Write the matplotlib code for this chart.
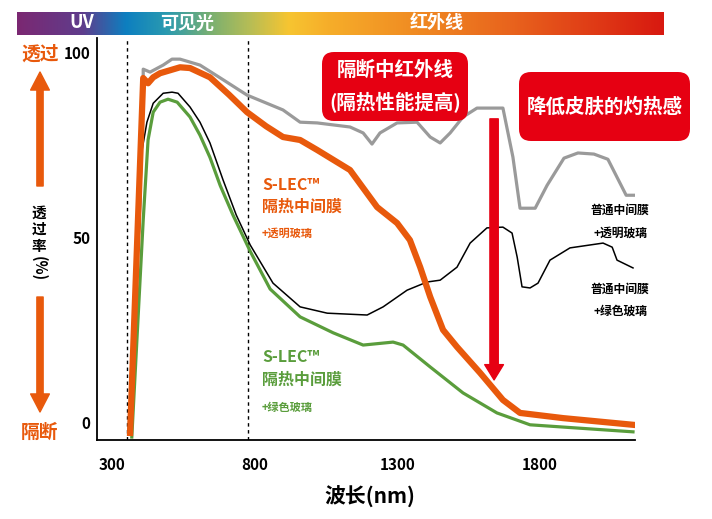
import numpy as np
import matplotlib.pyplot as plt
from matplotlib.colors import LinearSegmentedColormap
from matplotlib.patches import FancyBboxPatch

plt.rcParams['font.family'] = ['Noto Sans CJK SC', 'DejaVu Sans']
plt.rcParams['font.weight'] = 'bold'

# wavelength (nm) and transmittance (%)
gray_x = [362, 409, 409, 433, 479, 510, 538, 608, 690, 773, 899, 959, 1019, 1134, 1180, 1211,
          1239, 1299, 1369, 1415, 1450, 1485, 1530, 1579, 1670, 1705, 1730, 1783, 1825,
          1884, 1933, 1989, 2038, 2102, 2130]
gray_y = [-3, 93.2, 95.4, 94.6, 96.5, 98.1, 98.1, 96.5, 92.5, 88.4, 84.4, 81.1, 80.9, 79.8, 78.2, 75.2,
          78.2, 80.9, 81.1, 77.1, 75.5, 78.2, 82.5, 84.9, 84.9, 71.7, 57.9, 57.9, 64.1,
          71.4, 72.8, 72.5, 71.1, 61.4, 61.4]

orange_x = [363, 409, 426, 444, 468, 538, 573, 643, 710, 773, 840, 899, 959, 1019, 1134, 1229, 1299,
            1344, 1380, 1415, 1460, 1509, 1590, 1670, 1730, 1881, 2126]
orange_y = [-2.7, 93.0, 91.6, 93.2, 94.3, 95.9, 95.7, 93.2, 88.5, 83.8, 80.0, 77.1, 76.3, 73.6, 68.2, 58.2, 53.9,
            49.3, 42.0, 34.0, 25.1, 20.5, 13.5, 6.2, 2.7, 1.3, -0.5]

black_x = [356, 398, 405, 422, 444, 479, 510, 531, 573, 608, 643, 689, 735, 784, 864, 959, 1054, 1194,
           1250, 1334, 1404, 1450, 1509, 1555, 1614, 1670, 1702, 1720, 1737, 1765, 1793,
           1835, 1905, 2021, 2053, 2070, 2126]
black_y = [-2.4, 54.7, 73.6, 81.1, 86.2, 88.9, 89.2, 88.9, 85.2, 81.1, 75.5, 65.5, 56.1, 48.0, 37.7, 31.3, 29.6, 29.1,
           31.3, 35.8, 38.0, 38.5, 42.0, 48.5, 52.6, 52.8, 51.2, 44.7, 36.7, 36.4, 37.7,
           43.9, 47.2, 48.5, 47.4, 43.9, 41.8]

green_x = [369, 409, 426, 444, 468, 496, 528, 573, 608, 643, 679, 724, 784, 854, 959, 1075, 1180,
           1285, 1320, 1415, 1530, 1649, 1765, 2126]
green_y = [-3.8, 54.7, 76.3, 83.8, 86.5, 87.3, 86.5, 82.5, 77.6, 71.6, 64.0, 56.0, 46.3, 36.1, 28.6, 24.3, 21.0,
           21.8, 21.0, 15.1, 8.1, 2.7, -0.5, -2.4]

region_bounds = [352, 777]
xticks = [300, 800, 1300, 1800]
yticks = [0, 50, 100]
band_labels = ['UV', '可见光', '红外线']

ORANGE = '#e8590c'
GREEN = '#5a9d3c'
GRAY = '#9a9a9a'
RED = '#e60012'

W, H = 712, 519
fig = plt.figure(figsize=(W / 100, H / 100), dpi=100)


def fp(x, y):
    return (x / W, 1 - y / H)


ax = fig.add_axes([97 / W, 1 - 440 / H, (635 - 97) / W, (440 - 38) / H])
ax.plot(gray_x, gray_y, color=GRAY, lw=2.3, solid_joinstyle='round')
ax.plot(black_x, black_y, color='black', lw=1.1, solid_joinstyle='round')
ax.plot(green_x, green_y, color=GREEN, lw=2.3, solid_joinstyle='round')
ax.plot(orange_x, orange_y, color=ORANGE, lw=4.5, solid_joinstyle='round')
for b in region_bounds:
    ax.axvline(b, color='black', lw=1.0, ls=(0, (2.5, 2.5)), zorder=0)

ax.set_xlim(247, 2133)
ax.set_ylim(-4.6, 103.8)
ax.set_xticks(xticks)
ax.set_yticks(yticks)
ax.tick_params(length=0, labelsize=11, pad=12)
ax.tick_params(axis='y', pad=5)
for s in ['top', 'right']:
    ax.spines[s].set_visible(False)
for s in ['left', 'bottom']:
    ax.spines[s].set_linewidth(1.3)

# red arrow across the curves
ax.annotate('', xy=(1639, 11.6), xytext=(1639, 82),
            arrowprops=dict(arrowstyle='simple,tail_width=0.6,head_width=1.35,head_length=1.1',
                            color=RED, mutation_scale=10, shrinkA=0, shrinkB=0), zorder=5)

# spectrum bar
cmap = LinearSegmentedColormap.from_list('spec', [
    (0.0, '#7b2872'), (0.10, '#5f3d8c'), (0.167, '#0d7fc0'), (0.23, '#2a9ab0'),
    (0.30, '#7bb070'), (0.36, '#b7bd55'), (0.42, '#f7c531'), (0.48, '#f6ae2a'),
    (0.62, '#f08a22'), (0.77, '#e8621d'), (1.0, '#d81910')])
bar = fig.add_axes([17 / W, 1 - 35 / H, 647 / W, 23 / H])
bar.imshow(np.linspace(0, 1, 256)[None, :], aspect='auto', cmap=cmap)
bar.axis('off')
for lab, x in zip(band_labels, [82, 187, 437]):
    fig.text(*fp(x, 23), lab, color='white', fontsize=13, weight='bold', ha='center', va='center')

# left side labels and arrows
fig.text(*fp(40, 54), '透过', color=ORANGE, fontsize=13.5, weight='bold', ha='center', va='center')
fig.text(*fp(40, 432), '隔断', color=ORANGE, fontsize=13.5, weight='bold', ha='center', va='center')
arrow_style = 'simple,tail_width=0.45,head_width=1.35,head_length=1.3'
fig.add_artist(plt.Annotation('', xy=fp(40, 72), xytext=fp(40, 186), xycoords='figure fraction',
                              arrowprops=dict(arrowstyle=arrow_style, color=ORANGE, mutation_scale=10,
                                              shrinkA=0, shrinkB=0)))
fig.add_artist(plt.Annotation('', xy=fp(40, 412), xytext=fp(40, 297), xycoords='figure fraction',
                              arrowprops=dict(arrowstyle=arrow_style, color=ORANGE, mutation_scale=10,
                                              shrinkA=0, shrinkB=0)))
fig.text(*fp(39, 229), '透\n过\n率', fontsize=10.5, weight='bold', ha='center', va='center',
         linespacing=1.05)
fig.text(*fp(39, 269), '(%)', fontsize=10.5, weight='bold', ha='center', va='center', rotation=270)

fig.text(*fp(370, 497), '波长(nm)', fontsize=15, weight='bold', ha='center', va='center')

# curve labels
fig.text(*fp(262, 185), 'S-LEC™', color=ORANGE, fontsize=11.5, weight='bold', va='center')
fig.text(*fp(262, 207), '隔热中间膜', color=ORANGE, fontsize=11.5, weight='bold', va='center')
fig.text(*fp(262, 233), '+透明玻璃', color=ORANGE, fontsize=8, weight='bold', va='center')
fig.text(*fp(262, 357), 'S-LEC™', color=GREEN, fontsize=11.5, weight='bold', va='center')
fig.text(*fp(262, 380), '隔热中间膜', color=GREEN, fontsize=11.5, weight='bold', va='center')
fig.text(*fp(262, 407), '+绿色玻璃', color=GREEN, fontsize=8, weight='bold', va='center')
fig.text(*fp(620, 210), '普通中间膜', fontsize=8.5, weight='bold', ha='center', va='center')
fig.text(*fp(620, 233), '+透明玻璃', fontsize=8.5, weight='bold', ha='center', va='center')
fig.text(*fp(620, 289), '普通中间膜', fontsize=8.5, weight='bold', ha='center', va='center')
fig.text(*fp(620, 311), '+绿色玻璃', fontsize=8.5, weight='bold', ha='center', va='center')

# red callout boxes
for (x0, y0, x1, y1) in [(322, 52, 468, 121), (519, 72, 690, 141)]:
    fig.add_artist(FancyBboxPatch((x0 / 100, (H - y1) / 100), (x1 - x0) / 100, (y1 - y0) / 100,
                                  boxstyle='round,pad=0,rounding_size=0.12', transform=fig.dpi_scale_trans,
                                  facecolor=RED, edgecolor='none', zorder=6))
fig.text(*fp(395, 70), '隔断中红外线', color='white', fontsize=14, weight='bold', ha='center', va='center', zorder=7)
fig.text(*fp(395, 103), '(隔热性能提高)', color='white', fontsize=14, weight='bold', ha='center', va='center', zorder=7)
fig.text(*fp(605, 107), '降低皮肤的灼热感', color='white', fontsize=14, weight='bold', ha='center', va='center', zorder=7)

fig.savefig('out.png', dpi=100)
